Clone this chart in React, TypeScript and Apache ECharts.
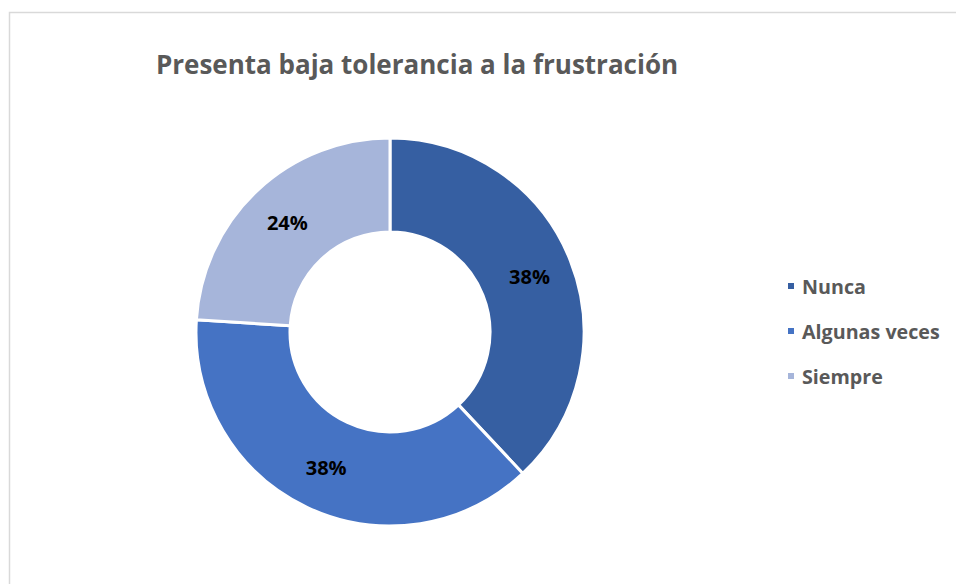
import React, { useEffect, useRef } from "react";
import * as echarts from "echarts";

const categories = ["Nunca", "Algunas veces", "Siempre"];
const values = [38, 38, 24];
const colors = ["#365FA2", "#4573C4", "#A6B5DA"];
const titleText = "Presenta baja tolerancia a la frustración";

export default function App() {
  const ref = useRef<HTMLDivElement>(null);
  useEffect(() => {
    document.body.style.margin = "0";
    const chart = echarts.init(ref.current!, null, { renderer: "svg" });
    chart.setOption({
      animation: false,
      backgroundColor: "#ffffff",
      title: {
        text: titleText,
        left: 417,
        top: 51,
        textAlign: "center",
        padding: 0,
        textStyle: {
          fontFamily: "Open Sans",
          fontWeight: "bold",
          fontSize: 26,
          color: "#595959",
        },
      },
      graphic: [
        {
          type: "rect",
          shape: { x: 9.5, y: 12.5, width: 1000, height: 700 },
          style: { fill: "none", stroke: "#d9d9d9", lineWidth: 1.5 },
          silent: true,
        },
      ],
      legend: {
        orient: "vertical",
        left: 781,
        top: 269,
        itemWidth: 8,
        itemHeight: 8,
        itemGap: 21,
        icon: "rect",
        textStyle: {
          fontFamily: "Open Sans",
          fontWeight: "bold",
          fontSize: 19.7,
          lineHeight: 24,
          color: "#595959",
          padding: [0, 0, 0, 2],
        },
        data: categories,
      },
      series: [
        {
          type: "pie",
          center: [390, 332],
          radius: [100, 194],
          startAngle: 90,
          clockwise: true,
          label: {
            show: true,
            position: "inner",
            formatter: "{d}%",
            fontFamily: "Open Sans",
            fontWeight: "bold",
            fontSize: 20,
            color: "#000000",
          },
          labelLine: { show: false },
          itemStyle: { borderColor: "#ffffff", borderWidth: 3 },
          emphasis: { disabled: true },
          data: categories.map((name, i) => ({
            name,
            value: values[i],
            itemStyle: { color: colors[i] },
          })),
        },
      ],
    });
    return () => chart.dispose();
  }, []);
  return <div ref={ref} style={{ width: 956, height: 584 }} />;
}
